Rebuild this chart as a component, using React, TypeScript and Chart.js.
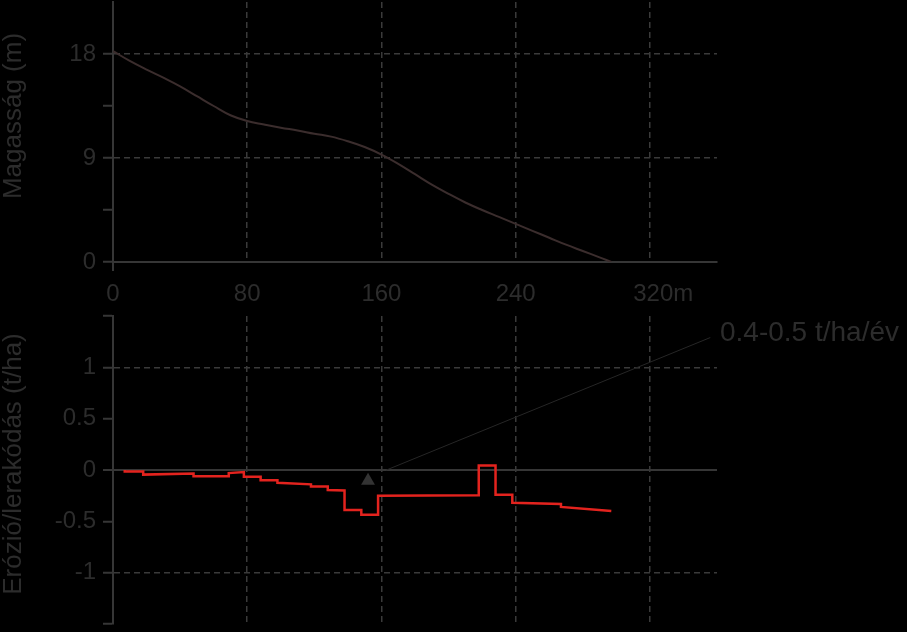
import React, { useEffect, useRef } from 'react';
import { Chart, registerables } from 'chart.js';

Chart.register(...registerables);

// ---- Data ----
const distance = [0, 10, 20, 30, 40, 50, 60, 70, 80, 90, 100, 110, 120, 130, 140, 150, 160, 170, 180, 190, 200, 210, 220, 230, 240, 250, 260, 270, 280, 290, 297];
const elevation = [18.25, 17.4, 16.65, 15.95, 15.2, 14.35, 13.5, 12.7, 12.2, 11.9, 11.62, 11.38, 11.1, 10.85, 10.45, 9.95, 9.3, 8.5, 7.6, 6.7, 5.9, 5.15, 4.5, 3.9, 3.3, 2.7, 2.1, 1.5, 0.95, 0.4, 0];

const erosionX = [7, 7, 18, 18, 48, 48, 69, 69, 78, 78, 88, 88, 98, 98, 118, 118, 128, 128, 138, 138, 148, 148, 158, 158, 218, 218, 228, 228, 238, 238, 267, 267, 297];
const erosionY = [0, -0.015, -0.015, -0.045, -0.035, -0.06, -0.06, -0.03, -0.02, -0.065, -0.065, -0.10, -0.10, -0.125, -0.14, -0.16, -0.16, -0.195, -0.2, -0.39, -0.39, -0.435, -0.435, -0.25, -0.245, 0.045, 0.045, -0.24, -0.24, -0.32, -0.33, -0.36, -0.40];

const markerX = [152];
const markerY = [-0.105];
const leaderX = [163, 356];
const leaderY = [0, 1.29];

const xTickValues = [0, 80, 160, 240, 320];
const xTickLabels = ['0', '80', '160', '240', '\u00A0\u00A0\u00A0\u00A0320m'];
const topYTickValues = [0, 4.5, 9, 13.5, 18];
const topYTickLabels = ['0', '', '9', '', '18'];
const bottomYTickValues = [-1.5, -1, -0.5, 0, 0.5, 1, 1.5];
const bottomYTickLabels = ['', '-1', '-0.5', '0', '0.5', '1', ''];

const topYTitle = 'Magasság (m)';
const bottomYTitle = 'Erózió/lerakódás (t/ha)';
const annotationText = '0.4-0.5 t/ha/év';

// ---- Styles ----
const FONT = '"Liberation Sans", Arial, Helvetica, sans-serif';
const TEXT = '#2c2c2c';
const GRID = '#3a3a3a';
const AXIS = '#363636';
const PROFILE = '#3b2d2d';
const RED = '#e3231e';

function titlePlugin(title: string, cy: number, extra?: (c: any) => void) {
  return {
    id: 'extras',
    afterDraw(chart: any) {
      const ctx = chart.ctx;
      ctx.save();
      ctx.fillStyle = TEXT;
      ctx.font = `26px ${FONT}`;
      ctx.translate(21, cy);
      ctx.rotate(-Math.PI / 2);
      ctx.textAlign = 'center';
      ctx.textBaseline = 'alphabetic';
      ctx.fillText(title, 0, 0);
      ctx.restore();
      if (extra) extra(chart);
    },
  };
}

function setTicks(values: number[]) {
  return (scale: any) => {
    scale.ticks = values.map((v) => ({ value: v }));
  };
}

export default function App() {
  const topRef = useRef<HTMLCanvasElement>(null);
  const botRef = useRef<HTMLCanvasElement>(null);

  useEffect(() => {
    const top = new Chart(topRef.current as HTMLCanvasElement, {
      type: 'line',
      data: {
        datasets: [
          {
            data: distance.map((x, i) => ({ x, y: elevation[i] })),
            borderColor: PROFILE,
            borderWidth: 2,
            pointRadius: 0,
            tension: 0.4,
            fill: false,
          } as any,
        ],
      },
      options: {
        responsive: false,
        animation: false,
        layout: { padding: { left: 0, right: 190, top: 2, bottom: 0 } },
        plugins: { legend: { display: false }, tooltip: { enabled: false } },
        scales: {
          x: {
            type: 'linear',
            min: 0,
            max: 360,
            afterBuildTicks: setTicks(xTickValues),
            afterFit: (s: any) => {
              s.height = 48;
              s.paddingLeft = 0;
              s.paddingRight = 0;
            },
            ticks: {
              callback: (v: any) => xTickLabels[xTickValues.indexOf(v)],
              color: TEXT,
              font: { family: FONT, size: 24 },
              padding: 18,
              maxRotation: 0,
              autoSkip: false,
            },
            grid: {
              color: (c: any) => (c.tick && c.tick.value !== 0 ? GRID : 'transparent'),
              lineWidth: 1.5,
              drawTicks: false,
            },
            border: { display: true, color: AXIS, width: 2, dash: [6, 4] },
          },
          y: {
            type: 'linear',
            min: 0,
            max: 22.5,
            afterBuildTicks: setTicks(topYTickValues),
            afterFit: (s: any) => {
              s.width = 113;
              s.paddingTop = 0;
              s.paddingBottom = 0;
            },
            ticks: {
              callback: (v: any) => topYTickLabels[topYTickValues.indexOf(v)],
              color: TEXT,
              font: { family: FONT, size: 24 },
              padding: 7,
              autoSkip: false,
            },
            grid: {
              color: (c: any) => (c.tick && (c.tick.value === 9 || c.tick.value === 18) ? GRID : 'transparent'),
              lineWidth: 1.5,
              tickColor: AXIS,
              tickLength: 10,
              tickWidth: 2,
            },
            border: { display: true, color: AXIS, width: 2, dash: [6, 4] },
          },
        },
      },
      plugins: [
        titlePlugin(topYTitle, 116, (chart: any) => {
          const ctx = chart.ctx;
          const a = chart.chartArea;
          ctx.save();
          ctx.strokeStyle = AXIS;
          ctx.lineWidth = 2;
          ctx.beginPath();
          ctx.moveTo(a.left, a.bottom);
          ctx.lineTo(a.left, a.bottom + 9);
          ctx.stroke();
          ctx.restore();
        }),
      ],
    });

    const bot = new Chart(botRef.current as HTMLCanvasElement, {
      type: 'line',
      data: {
        datasets: [
          {
            data: leaderX.map((x, i) => ({ x, y: leaderY[i] })),
            borderColor: '#262626',
            borderWidth: 1,
            pointRadius: 0,
            fill: false,
          } as any,
          {
            data: erosionX.map((x, i) => ({ x, y: erosionY[i] })),
            borderColor: RED,
            borderWidth: 2.5,
            pointRadius: 0,
            tension: 0,
            fill: false,
          } as any,
          {
            data: markerX.map((x, i) => ({ x, y: markerY[i] })),
            showLine: false,
            pointStyle: 'triangle',
            pointRadius: 8,
            backgroundColor: '#333333',
            borderColor: '#333333',
            borderWidth: 0,
          } as any,
        ],
      },
      options: {
        responsive: false,
        animation: false,
        layout: { padding: { left: 0, right: 190, top: 16, bottom: 0 } },
        plugins: { legend: { display: false }, tooltip: { enabled: false } },
        scales: {
          x: {
            type: 'linear',
            min: 0,
            max: 360,
            afterBuildTicks: setTicks(xTickValues),
            afterFit: (s: any) => {
              s.height = 4;
              s.paddingLeft = 0;
              s.paddingRight = 0;
            },
            ticks: { display: false },
            grid: {
              color: (c: any) => (c.tick && c.tick.value !== 0 ? GRID : 'transparent'),
              lineWidth: 1.5,
              drawTicks: false,
            },
            border: { display: false, dash: [6, 4] },
          },
          y: {
            type: 'linear',
            min: -1.5,
            max: 1.5,
            afterBuildTicks: setTicks(bottomYTickValues),
            afterFit: (s: any) => {
              s.width = 113;
              s.paddingTop = 0;
              s.paddingBottom = 0;
            },
            ticks: {
              callback: (v: any) => bottomYTickLabels[bottomYTickValues.indexOf(v)],
              color: TEXT,
              font: { family: FONT, size: 24 },
              padding: 7,
              autoSkip: false,
            },
            grid: {
              color: (c: any) => {
                if (!c.tick) return 'transparent';
                const v = c.tick.value;
                if (v === 0) return AXIS;
                if (v === 1 || v === -1) return GRID;
                return 'transparent';
              },
              lineWidth: (c: any) => (c.tick && c.tick.value === 0 ? 2 : 1.5),
              tickColor: AXIS,
              tickLength: 10,
              tickWidth: 2,
            },
            border: {
              display: true,
              color: AXIS,
              width: 2,
              dash: (c: any) => (c.tick && c.tick.value === 0 ? [] : [6, 4]),
            },
          },
        },
      },
      plugins: [
        titlePlugin(bottomYTitle, 164, (chart: any) => {
          const ctx = chart.ctx;
          ctx.save();
          ctx.fillStyle = TEXT;
          ctx.font = `28px ${FONT}`;
          ctx.textAlign = 'left';
          ctx.textBaseline = 'alphabetic';
          ctx.fillText(annotationText, 720, 41);
          ctx.restore();
        }),
      ],
    });

    return () => {
      top.destroy();
      bot.destroy();
    };
  }, []);

  return (
    <div
      style={{
        position: 'fixed',
        left: 0,
        top: 0,
        width: 907,
        height: 632,
        background: '#000',
        overflow: 'hidden',
      }}
    >
      <canvas ref={topRef} width={907} height={310} style={{ position: 'absolute', left: 0, top: 0 }} />
      <canvas ref={botRef} width={907} height={332} style={{ position: 'absolute', left: 0, top: 300 }} />
    </div>
  );
}
